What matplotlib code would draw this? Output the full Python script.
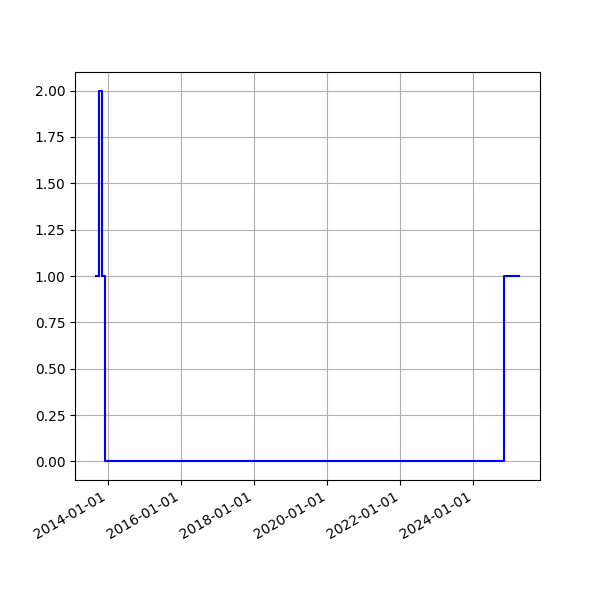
import matplotlib
matplotlib.use("Agg")
import matplotlib.pyplot as plt
import matplotlib.dates as mdates
import pandas as pd

# change points of the step series
dates = ["2013-09-01", "2013-10-01", "2013-11-01", "2013-12-01", "2024-11-01", "2025-04-01"]
counts = [1, 2, 1, 0, 1, 1]

x = pd.to_datetime(dates)

fig, ax = plt.subplots(figsize=(6, 6), dpi=100)
ax.plot(x, counts, drawstyle="steps-post", color="blue")
ax.grid(True)
ax.xaxis.set_major_locator(mdates.YearLocator(2))
ax.xaxis.set_major_formatter(mdates.DateFormatter("%Y-%m-%d"))
fig.autofmt_xdate()
fig.savefig("out.png", dpi=100)
